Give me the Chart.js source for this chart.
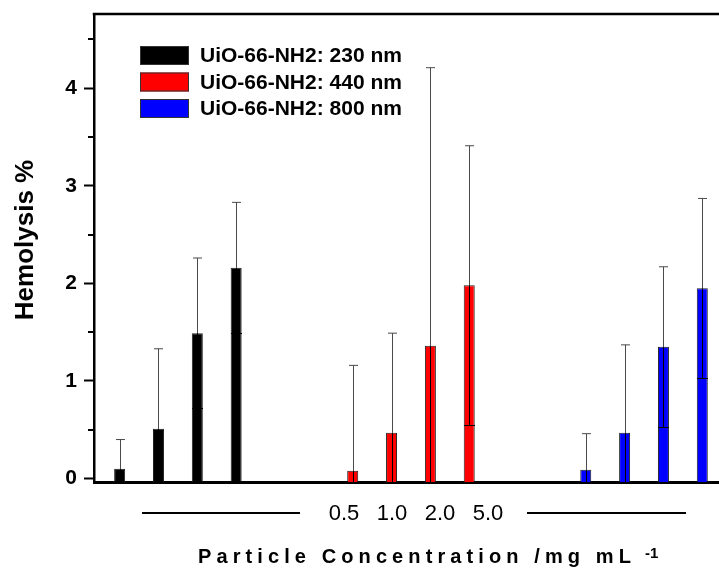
<!DOCTYPE html>
<html>
<head>
<meta charset="utf-8">
<script src="https://cdn.jsdelivr.net/npm/chart.js@4.4.0/dist/chart.umd.min.js"></script>
<style>
  body { margin: 0; background: #fff; }
</style>
</head>
<body>
<canvas id="hemo" width="719" height="570"></canvas>
<script>
  // particle sizes (one series each) and the tested concentrations, mg/mL
  var sizes = ['230 nm', '440 nm', '800 nm'];
  var concentrations = ['0.5', '1.0', '2.0', '5.0'];
  var colors = ['#000000', '#ff0000', '#0000ff'];

  // hemolysis % (mean) and error for each concentration
  var hemo230 = [0.10, 0.51, 1.49, 2.16];
  var err230  = [0.30, 0.82, 0.77, 0.67];
  var hemo440 = [0.08, 0.47, 1.36, 1.98];
  var err440  = [1.08, 1.02, 2.85, 1.43];
  var hemo800 = [0.09, 0.47, 1.35, 1.95];
  var err800  = [0.37, 0.90, 0.82, 0.92];

  var yMin = -0.035, yMax = 4.76;
  var xMin = -0.66, xMax = 15.43;
  var groupGap = 2; // empty slots between the size groups

  var means = [hemo230, hemo440, hemo800];
  var errors = [err230, err440, err800];
  var FONT = "'Liberation Sans', Arial, Helvetica, sans-serif";

  var datasets = sizes.map(function (s, g) {
    return {
      label: 'UiO-66-NH2: ' + s,
      data: means[g].map(function (v, c) {
        return { x: g * (concentrations.length + groupGap) + c, y: v };
      }),
      errors: errors[g],
      backgroundColor: colors[g],
      borderColor: '#222',
      borderWidth: 1,
      grouped: false,
      maxBarThickness: 11,
      base: yMin
    };
  });

  var extras = {
    id: 'extras',
    afterDatasetsDraw: function (chart) {
      var ctx = chart.ctx, area = chart.chartArea, y = chart.scales.y;
      ctx.save();
      ctx.beginPath();
      ctx.rect(area.left, area.top, area.right - area.left, area.bottom - area.top);
      ctx.clip();
      ctx.lineWidth = 1;
      chart.data.datasets.forEach(function (ds, i) {
        chart.getDatasetMeta(i).data.forEach(function (bar, j) {
          var v = ds.data[j].y, e = ds.errors[j];
          var x = Math.round(bar.x) + 0.5;
          var mid = y.getPixelForValue(v);
          var top = y.getPixelForValue(v + e), bot = y.getPixelForValue(v - e);
          // upper half, grey
          ctx.strokeStyle = '#4a4a4a';
          ctx.beginPath();
          ctx.moveTo(x, top); ctx.lineTo(x, mid);
          ctx.moveTo(x - 4.5, top); ctx.lineTo(x + 4.5, top);
          ctx.stroke();
          // lower half, inside the bar
          ctx.strokeStyle = '#000';
          ctx.beginPath();
          ctx.moveTo(x, mid); ctx.lineTo(x, bot);
          if (v - e > 0) {
            var by = Math.round(bot) + 0.5;
            ctx.moveTo(x - 5.5, by); ctx.lineTo(x + 5.5, by);
          }
          ctx.stroke();
        });
      });
      ctx.restore();
    },
    afterDraw: function (chart) {
      var ctx = chart.ctx, area = chart.chartArea, y = chart.scales.y;
      ctx.save();
      ctx.strokeStyle = '#000';
      ctx.fillStyle = '#000';

      // top frame line
      ctx.lineWidth = 2.5;
      ctx.beginPath();
      ctx.moveTo(area.left - 1.25, area.top);
      ctx.lineTo(chart.width, area.top);
      ctx.stroke();

      // minor ticks
      ctx.lineWidth = 2;
      ctx.beginPath();
      y.ticks.forEach(function (t) {
        if (!Number.isInteger(t.value)) {
          var py = Math.round(y.getPixelForValue(t.value));
          ctx.moveTo(area.left - 6, py); ctx.lineTo(area.left, py);
        }
      });
      ctx.stroke();

      // legend inside the plot
      ctx.font = 'bold 21px ' + FONT;
      ctx.textAlign = 'left';
      ctx.textBaseline = 'middle';
      chart.data.datasets.forEach(function (ds, i) {
        var by = 46 + i * 26.5;
        ctx.fillStyle = ds.backgroundColor;
        ctx.fillRect(140, by, 49, 19);
        ctx.strokeStyle = '#333';
        ctx.lineWidth = 1;
        ctx.strokeRect(140.5, by + 0.5, 48, 18);
        ctx.fillStyle = '#000';
        ctx.fillText(ds.label, 200, by + 10.5);
      });

      // y title
      ctx.save();
      ctx.translate(33, 240);
      ctx.rotate(-Math.PI / 2);
      ctx.font = 'bold 26px ' + FONT;
      ctx.textAlign = 'center';
      ctx.textBaseline = 'alphabetic';
      ctx.fillText('Hemolysis %', 0, 0);
      ctx.restore();

      // concentration labels with lines either side
      ctx.font = '22px ' + FONT;
      ctx.textAlign = 'center';
      ctx.textBaseline = 'middle';
      concentrations.forEach(function (c, k) {
        ctx.fillText(c, 416 + (k - 1.5) * 48, 514);
      });
      ctx.strokeStyle = '#000';
      ctx.lineWidth = 2;
      ctx.beginPath();
      ctx.moveTo(142, 513); ctx.lineTo(300, 513);
      ctx.moveTo(527, 513); ctx.lineTo(686, 513);
      ctx.stroke();

      // x title, letter spaced
      ctx.font = 'bold 20px ' + FONT;
      ctx.textAlign = 'left';
      ctx.textBaseline = 'alphabetic';
      var title = 'Particle Concentration /mg mL';
      var cx = 198;
      for (var i = 0; i < title.length; i++) {
        ctx.fillText(title[i], cx, 563);
        cx += ctx.measureText(title[i]).width + 5.1;
      }
      ctx.font = 'bold 15px ' + FONT;
      ctx.fillText('-1', cx + 9, 558);
      ctx.restore();
    }
  };

  new Chart(document.getElementById('hemo'), {
    type: 'bar',
    data: { datasets: datasets },
    options: {
      responsive: false,
      animation: false,
      layout: { padding: { top: 14, left: 0, right: 0, bottom: 0 } },
      plugins: { legend: { display: false }, tooltip: { enabled: false } },
      scales: {
        x: {
          type: 'linear',
          offset: false,
          min: xMin,
          max: xMax,
          ticks: { display: false },
          grid: { drawOnChartArea: false, drawTicks: false },
          border: { color: '#000', width: 3 },
          afterFit: function (s) { s.height = 88; s.paddingLeft = 0; s.paddingRight = 0; }
        },
        y: {
          min: yMin,
          max: yMax,
          ticks: {
            stepSize: 0.5,
            includeBounds: false,
            autoSkip: false,
            padding: 7,
            color: '#000',
            font: { family: FONT, size: 21, weight: 'bold' },
            callback: function (v) { return Number.isInteger(v) ? v : ''; }
          },
          grid: {
            drawOnChartArea: false,
            tickLength: 10,
            tickWidth: 2,
            tickColor: function (c) {
              return c.tick && Number.isInteger(c.tick.value) ? '#000' : 'rgba(0,0,0,0)';
            }
          },
          border: { color: '#000', width: 2.5 },
          afterFit: function (s) { s.width = 94; s.paddingTop = 0; s.paddingBottom = 0; }
        }
      }
    },
    plugins: [extras]
  });
</script>
</body>
</html>
